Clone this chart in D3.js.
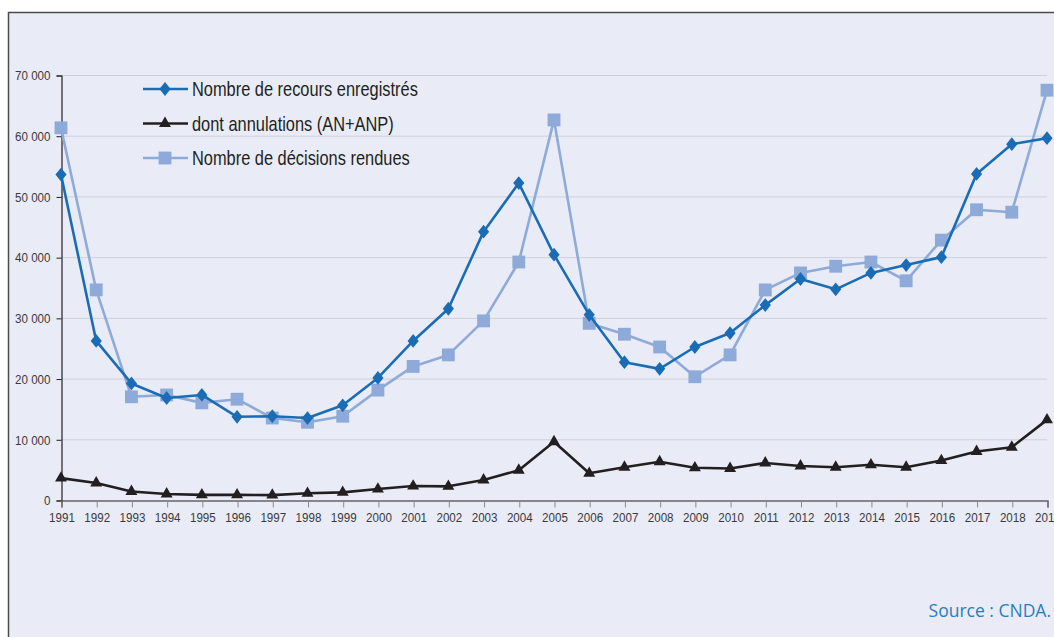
<!DOCTYPE html>
<html>
<head>
<meta charset="utf-8">
<script src="https://cdn.jsdelivr.net/npm/d3@7"></script>
<style>
  html, body { margin: 0; padding: 0; background: #fff; }
  svg { display: block; }
</style>
</head>
<body>
<svg width="1054" height="637"></svg>
<script>
const years = d3.range(1991, 2020);
const recours = [53600, 26200, 19200, 16800, 17300, 13700, 13800, 13500, 15600, 20100,
  26200, 31500, 44200, 52200, 40400, 30500, 22700, 21600, 25200, 27500,
  32100, 36400, 34700, 37400, 38700, 40000, 53700, 58600, 59600];
const annulations = [3600, 2800, 1400, 1000, 850, 850, 800, 1100, 1250, 1800,
  2300, 2250, 3300, 4900, 9600, 4400, 5400, 6300, 5300, 5200,
  6100, 5600, 5400, 5800, 5400, 6500, 8000, 8700, 13200];
const decisions = [61300, 34600, 17000, 17300, 16000, 16600, 13500, 12800, 13800, 18100,
  22000, 23900, 29500, 39200, 62600, 29100, 27300, 25200, 20300, 23900,
  34600, 37400, 38500, 39200, 36100, 42800, 47800, 47400, 67500];
const yTicks = [0, 10000, 20000, 30000, 40000, 50000, 60000, 70000];

const series = [
  { name: "Nombre de recours enregistrés", values: recours, color: "#1a6db4", symbol: d3.symbolDiamond, size: 55, sx: 1.4 },
  { name: "dont annulations (AN+ANP)", values: annulations, color: "#231f20", symbol: d3.symbolTriangle, size: 62, sx: 1 },
  { name: "Nombre de décisions rendues", values: decisions, color: "#8eaad8", symbol: d3.symbolSquare, size: 165, sx: 1 }
];
// decisions first, so the other series sit on top
const drawOrder = [2, 1, 0];

const svg = d3.select("svg");
const font = "'Liberation Sans', Arial, sans-serif";
const squeeze = 0.86;

// frame
svg.append("rect")
  .attr("x", 8.5).attr("y", 12.5)
  .attr("width", 1100).attr("height", 700)
  .attr("fill", "#e9ecf7")
  .attr("stroke", "#4b4b4d")
  .attr("stroke-width", 1.5);

const x = d3.scaleLinear().domain([1991, 2019]).range([61, 1047]);
const y = d3.scaleLinear().domain([0, 70000]).range([500, 75]);

// gridlines
svg.append("g")
  .selectAll("line")
  .data(yTicks.filter(d => d > 0))
  .join("line")
  .attr("x1", 61).attr("x2", 1047)
  .attr("y1", d => y(d) + 0.5).attr("y2", d => y(d) + 0.5)
  .attr("stroke", "#cdd0d8")
  .attr("stroke-width", 1);

// y axis
const yAxis = svg.append("g")
  .attr("transform", "translate(61.5,0.5)")
  .call(d3.axisLeft(y).tickValues(yTicks).tickSize(5)
    .tickFormat(d => d3.format(",")(d).replace(/,/g, " ")));
yAxis.select(".domain").attr("stroke", "#231f20").attr("stroke-width", 1.2);
yAxis.selectAll(".tick line").attr("stroke", "#231f20");
yAxis.selectAll("text")
  .attr("x", -11 / squeeze)
  .attr("transform", `scale(${squeeze},1)`)
  .attr("font-family", font).attr("font-size", 13.5).attr("fill", "#3a3a3c");

// x axis
const xAxis = svg.append("g")
  .attr("transform", "translate(0.5,500.5)")
  .call(d3.axisBottom(x).tickValues(years).tickSize(7).tickPadding(5).tickFormat(d3.format("d")));
xAxis.select(".domain").attr("stroke", "#231f20").attr("stroke-width", 1.2);
xAxis.selectAll(".tick line").attr("stroke", "#8a8a8c");
xAxis.selectAll("text")
  .attr("transform", `scale(${squeeze},1)`)
  .attr("font-family", font).attr("font-size", 13.5).attr("fill", "#3a3a3c");

const line = d3.line()
  .x((d, i) => x(years[i]))
  .y(d => y(d));

drawOrder.forEach(k => {
  const s = series[k];
  const g = svg.append("g");
  g.append("path")
    .datum(s.values)
    .attr("fill", "none")
    .attr("stroke", s.color)
    .attr("stroke-width", 2.6)
    .attr("stroke-linejoin", "round")
    .attr("d", line);
  g.selectAll("path.mark")
    .data(s.values)
    .join("path")
    .attr("class", "mark")
    .attr("d", d3.symbol().type(s.symbol).size(s.size))
    .attr("transform", (d, i) => `translate(${x(years[i])},${y(d)}) scale(${s.sx},1)`)
    .attr("fill", s.color);
});

// legend
const legend = svg.append("g");
series.forEach((s, i) => {
  const ly = 89 + i * 34.5;
  legend.append("line")
    .attr("x1", 143).attr("x2", 188)
    .attr("y1", ly).attr("y2", ly)
    .attr("stroke", s.color).attr("stroke-width", 2.6);
  legend.append("path")
    .attr("d", d3.symbol().type(s.symbol).size(s.size))
    .attr("transform", `translate(165,${ly}) scale(${s.sx},1)`)
    .attr("fill", s.color);
  legend.append("text")
    .attr("transform", `translate(192,${ly + 7}) scale(0.8,1)`)
    .attr("font-family", font).attr("font-size", 20.5)
    .attr("fill", "#231f20")
    .text(s.name);
});

// source
svg.append("text")
  .attr("x", 1051).attr("y", 617)
  .attr("text-anchor", "end")
  .attr("font-family", "'Open Sans', 'Noto Sans', sans-serif")
  .attr("font-size", 17.5)
  .attr("fill", "#2b7cc0")
  .text("Source : CNDA.")
</script>
</body>
</html>
